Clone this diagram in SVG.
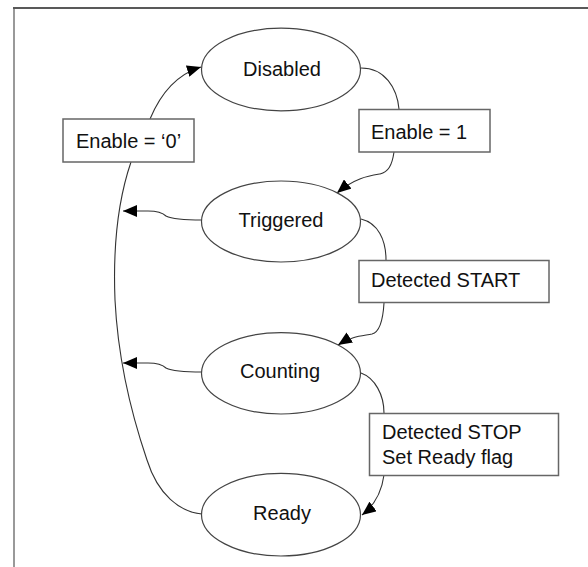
<svg xmlns="http://www.w3.org/2000/svg" width="588" height="567" viewBox="0 0 588 567">
<style>
.st{fill:#fff;stroke:#444;stroke-width:1.2}
.lb{fill:#fff;stroke:#666;stroke-width:1.5}
.t{font-family:"Liberation Sans",Arial,sans-serif;font-size:20px;fill:#111}
.c{fill:none;stroke:#333;stroke-width:1.1}
</style>
<defs>
<marker id="ah" markerUnits="userSpaceOnUse" markerWidth="15" markerHeight="12" refX="14" refY="6" orient="auto">
<path d="M0,0 L14,6 L0,12 z" fill="#000"/>
</marker>
</defs>
<rect width="588" height="567" fill="#fff"/>
<g id="frame">
<line x1="13" y1="8" x2="588" y2="8" stroke="#222" stroke-width="1.6"/>
<line x1="14" y1="8" x2="14" y2="567" stroke="#555" stroke-width="1.2"/>
</g>
<g id="connectors">
<path class="c" d="M361,68 C385,68 397,88 399,109"/>
<path class="c" marker-end="url(#ah)" d="M394,152 C392,166 388,172 380,174 C368,176 355,178 337,193"/>
<path class="c" d="M361,219 C378,223 386,240 386,260"/>
<path class="c" marker-end="url(#ah)" d="M384,303 C383,320 380,332 372,334 C362,336 352,336 338,345"/>
<path class="c" d="M361,373 C375,378 384,395 384,413"/>
<path class="c" marker-end="url(#ah)" d="M384,475 C382,490 375,505 362,515"/>
<path class="c" d="M202,514 C180,512 158,495 147,460 C130,410 118,360 115,300 C113,250 118,200 131,162"/>
<path class="c" marker-end="url(#ah)" d="M150,119 C160,95 175,75 201,67"/>
<path class="c" marker-end="url(#ah)" d="M202,220 C188,220 172,219 166,216 C162,212 156,211 148,211 L123,211"/>
<path class="c" marker-end="url(#ah)" d="M202,372 C188,372 172,371 166,368 C162,364 156,363 148,363 L123,363"/>
</g>
<g id="disabled">
<ellipse class="st" cx="281" cy="69.5" rx="79.5" ry="41.3"/>
<text class="t" x="282" y="76" text-anchor="middle">Disabled</text>
</g>
<g id="triggered">
<ellipse class="st" cx="281" cy="221.5" rx="79.5" ry="40.5"/>
<text class="t" x="281" y="226.5" text-anchor="middle">Triggered</text>
</g>
<g id="counting">
<ellipse class="st" cx="281" cy="373.3" rx="79.5" ry="40.7"/>
<text class="t" x="280" y="378" text-anchor="middle">Counting</text>
</g>
<g id="ready">
<ellipse class="st" cx="281" cy="514.7" rx="79.5" ry="41.3"/>
<text class="t" x="282" y="520" text-anchor="middle">Ready</text>
</g>
<g id="label-enable0">
<rect class="lb" x="63" y="119" width="131" height="43"/>
<text class="t" x="76" y="148">Enable = ‘0’</text>
</g>
<g id="label-enable1">
<rect class="lb" x="359" y="109.5" width="131" height="42.5"/>
<text class="t" x="371" y="138.5">Enable = 1</text>
</g>
<g id="label-start">
<rect class="lb" x="359" y="260.5" width="190" height="42"/>
<text class="t" x="371" y="287">Detected START</text>
</g>
<g id="label-stop">
<rect class="lb" x="369.5" y="413.5" width="189" height="62"/>
<text class="t" x="382" y="438.5">Detected STOP</text>
<text class="t" x="382" y="463.5">Set Ready flag</text>
</g>
</svg>
